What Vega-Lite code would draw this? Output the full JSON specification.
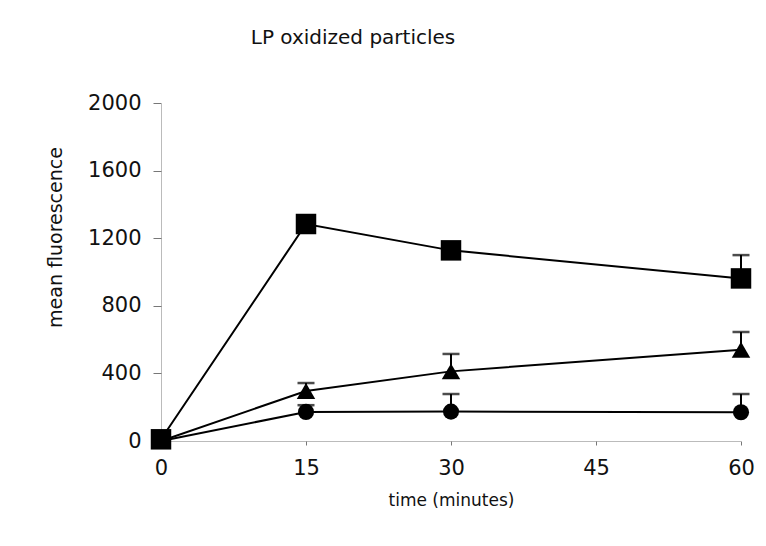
{
  "$schema": "https://vega.github.io/schema/vega-lite/v6.json",
  "autosize": "none",
  "width": 580,
  "height": 338,
  "padding": {"left": 161, "top": 103, "right": 25, "bottom": 105},
  "background": "white",
  "title": {
    "text": "LP oxidized particles",
    "font": "DejaVu Sans",
    "fontSize": 20,
    "fontWeight": "normal",
    "color": "#111",
    "anchor": "middle",
    "dx": -98,
    "offset": 44
  },
  "data": {
    "values": [
      {"series": "square", "time": 0, "mean": 10, "upper": null},
      {"series": "square", "time": 15, "mean": 1284, "upper": 1330},
      {"series": "square", "time": 30, "mean": 1128, "upper": null},
      {"series": "square", "time": 60, "mean": 962, "upper": 1100},
      {"series": "triangle", "time": 0, "mean": 0, "upper": null},
      {"series": "triangle", "time": 15, "mean": 296, "upper": 343},
      {"series": "triangle", "time": 30, "mean": 412, "upper": 515},
      {"series": "triangle", "time": 60, "mean": 540, "upper": 645},
      {"series": "circle", "time": 0, "mean": 0, "upper": null},
      {"series": "circle", "time": 15, "mean": 172, "upper": 212},
      {"series": "circle", "time": 30, "mean": 174, "upper": 278},
      {"series": "circle", "time": 60, "mean": 170, "upper": 278}
    ]
  },
  "encoding": {
    "x": {
      "field": "time",
      "type": "quantitative",
      "scale": {"domain": [0, 60], "nice": false},
      "axis": {
        "title": "time (minutes)",
        "values": [0, 15, 30, 45, 60],
        "format": "d",
        "grid": false,
        "labelFlush": false,
        "domainDash": [1, 1],
        "domainColor": "#777",
        "tickColor": "#777",
        "tickSize": 4,
        "labelFont": "DejaVu Sans",
        "labelFontSize": 21,
        "labelColor": "#111",
        "labelPadding": 12,
        "titleFont": "DejaVu Sans",
        "titleFontSize": 17,
        "titleFontWeight": "normal",
        "titleColor": "#111",
        "titlePadding": 14
      }
    },
    "y": {
      "field": "mean",
      "type": "quantitative",
      "scale": {"domain": [0, 2000], "nice": false},
      "axis": {
        "title": "mean fluorescence",
        "values": [0, 400, 800, 1200, 1600, 2000],
        "format": "d",
        "grid": false,
        "labelFlush": false,
        "domainDash": [1, 1],
        "domainColor": "#777",
        "tickColor": "#777",
        "tickSize": 8,
        "labelFont": "DejaVu Sans",
        "labelFontSize": 21,
        "labelColor": "#111",
        "labelPadding": 12,
        "titleFont": "DejaVu Sans",
        "titleFontSize": 19,
        "titleFontWeight": "normal",
        "titleColor": "#111",
        "titlePadding": 22,
        "titleY": 134,
        "titleAlign": "center"
      }
    }
  },
  "layer": [
    {
      "mark": {"type": "line", "color": "black", "strokeWidth": 2},
      "encoding": {"detail": {"field": "series"}}
    },
    {
      "transform": [{"filter": "datum.upper != null"}],
      "mark": {"type": "rule", "color": "black", "strokeWidth": 2},
      "encoding": {"y2": {"field": "upper"}}
    },
    {
      "transform": [{"filter": "datum.upper != null"}],
      "mark": {"type": "tick", "color": "black", "orient": "horizontal", "size": 17, "thickness": 2.5},
      "encoding": {"y": {"field": "upper", "type": "quantitative"}}
    },
    {
      "mark": {"type": "point", "filled": true, "color": "black", "opacity": 1},
      "encoding": {
        "shape": {
          "field": "series",
          "type": "nominal",
          "scale": {"domain": ["circle", "triangle", "square"], "range": ["circle", "triangle-up", "square"]},
          "legend": null
        },
        "size": {
          "field": "series",
          "type": "nominal",
          "scale": {"domain": ["circle", "triangle", "square"], "range": [260, 420, 360]},
          "legend": null
        },
        "order": {"field": "series", "sort": "descending"}
      }
    }
  ],
  "config": {"view": {"stroke": null}}
}
